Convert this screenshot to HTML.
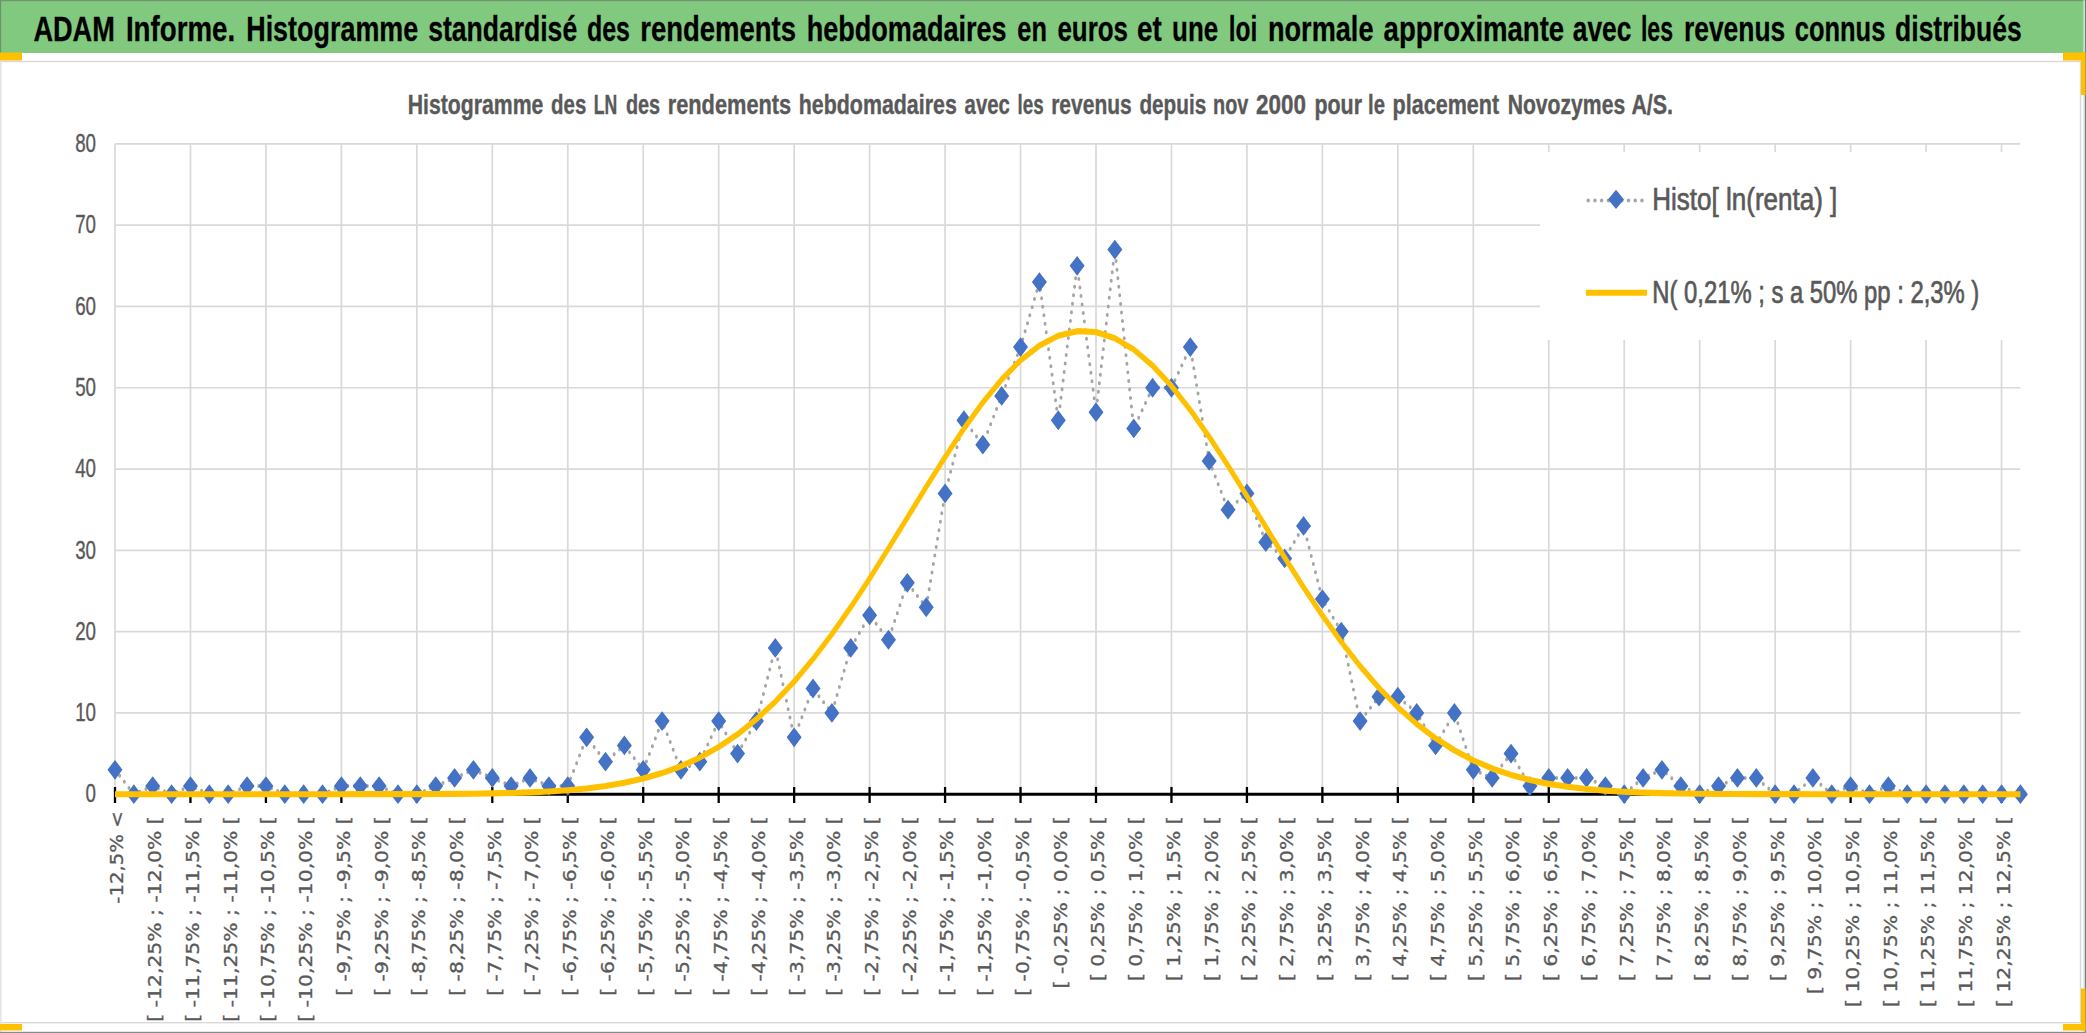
<!DOCTYPE html><html><head><meta charset="utf-8"><title>ADAM Informe</title><style>html,body{margin:0;padding:0;background:#fff;overflow:hidden}svg{display:block}</style></head><body>
<svg width="2086" height="1033" viewBox="0 0 2086 1033">
<rect x="0" y="0" width="2086" height="1033" fill="#ffffff"/>
<rect x="0" y="0" width="2084" height="53" fill="#80C97F"/>
<rect x="0" y="0" width="2086" height="1.2" fill="#739573"/>
<rect x="0" y="0" width="1.1" height="53" fill="#6F8F6F"/>
<rect x="0.7" y="61.5" width="2079.8" height="961.2" fill="none" stroke="#D9D9D9" stroke-width="1.4"/>
<rect x="0" y="53" width="1.3" height="980" fill="#E6E6E6"/>
<rect x="2084.6" y="0" width="1.4" height="1033" fill="#7A7A7A"/>
<rect x="2083.4" y="0" width="1.2" height="1033" fill="#D5E4D5"/>
<rect x="0" y="1031.8" width="2086" height="1.2" fill="#8A8A8A"/>
<rect x="0" y="52.5" width="22" height="8" fill="#FFC000"/>
<rect x="0" y="1024" width="22" height="6.5" fill="#FFC000"/>
<rect x="2063" y="52.5" width="22" height="8" fill="#FFC000"/>
<rect x="2081" y="52.5" width="4.5" height="42.5" fill="#FFC000"/>
<rect x="2063" y="1024" width="22.5" height="6.5" fill="#FFC000"/>
<rect x="2081" y="988.5" width="4.5" height="42" fill="#FFC000"/>
<text transform="translate(33.40 40.80) scale(0.7653 1)" x="-0.00" y="0" font-family="Liberation Sans, sans-serif" font-weight="bold" font-size="35.50" fill="#000" stroke="#000" stroke-width="0.3">ADAM</text>
<text transform="translate(125.90 40.80) scale(0.7804 1)" x="-0.00" y="0" font-family="Liberation Sans, sans-serif" font-weight="bold" font-size="35.50" fill="#000" stroke="#000" stroke-width="0.3">Informe.</text>
<text transform="translate(246.20 40.80) scale(0.7585 1)" x="-0.00" y="0" font-family="Liberation Sans, sans-serif" font-weight="bold" font-size="35.50" fill="#000" stroke="#000" stroke-width="0.3">Histogramme</text>
<text transform="translate(428.20 40.80) scale(0.7478 1)" x="-0.00" y="0" font-family="Liberation Sans, sans-serif" font-weight="bold" font-size="35.50" fill="#000" stroke="#000" stroke-width="0.3">standardisé</text>
<text transform="translate(587.00 40.80) scale(0.7030 1)" x="-0.00" y="0" font-family="Liberation Sans, sans-serif" font-weight="bold" font-size="35.50" fill="#000" stroke="#000" stroke-width="0.3">des</text>
<text transform="translate(640.20 40.80) scale(0.7743 1)" x="-0.00" y="0" font-family="Liberation Sans, sans-serif" font-weight="bold" font-size="35.50" fill="#000" stroke="#000" stroke-width="0.3">rendements</text>
<text transform="translate(806.70 40.80) scale(0.7626 1)" x="-0.00" y="0" font-family="Liberation Sans, sans-serif" font-weight="bold" font-size="35.50" fill="#000" stroke="#000" stroke-width="0.3">hebdomadaires</text>
<text transform="translate(1017.30 40.80) scale(0.7145 1)" x="-0.00" y="0" font-family="Liberation Sans, sans-serif" font-weight="bold" font-size="35.50" fill="#000" stroke="#000" stroke-width="0.3">en</text>
<text transform="translate(1057.40 40.80) scale(0.7303 1)" x="-0.00" y="0" font-family="Liberation Sans, sans-serif" font-weight="bold" font-size="35.50" fill="#000" stroke="#000" stroke-width="0.3">euros</text>
<text transform="translate(1137.10 40.80) scale(0.7826 1)" x="-0.00" y="0" font-family="Liberation Sans, sans-serif" font-weight="bold" font-size="35.50" fill="#000" stroke="#000" stroke-width="0.3">et</text>
<text transform="translate(1172.10 40.80) scale(0.7304 1)" x="-0.00" y="0" font-family="Liberation Sans, sans-serif" font-weight="bold" font-size="35.50" fill="#000" stroke="#000" stroke-width="0.3">une</text>
<text transform="translate(1228.80 40.80) scale(0.6879 1)" x="-0.00" y="0" font-family="Liberation Sans, sans-serif" font-weight="bold" font-size="35.50" fill="#000" stroke="#000" stroke-width="0.3">loi</text>
<text transform="translate(1268.00 40.80) scale(0.7640 1)" x="-0.00" y="0" font-family="Liberation Sans, sans-serif" font-weight="bold" font-size="35.50" fill="#000" stroke="#000" stroke-width="0.3">normale</text>
<text transform="translate(1383.60 40.80) scale(0.7759 1)" x="-0.00" y="0" font-family="Liberation Sans, sans-serif" font-weight="bold" font-size="35.50" fill="#000" stroke="#000" stroke-width="0.3">approximante</text>
<text transform="translate(1572.80 40.80) scale(0.7419 1)" x="-0.00" y="0" font-family="Liberation Sans, sans-serif" font-weight="bold" font-size="35.50" fill="#000" stroke="#000" stroke-width="0.3">avec</text>
<text transform="translate(1640.90 40.80) scale(0.6505 1)" x="-0.00" y="0" font-family="Liberation Sans, sans-serif" font-weight="bold" font-size="35.50" fill="#000" stroke="#000" stroke-width="0.3">les</text>
<text transform="translate(1684.00 40.80) scale(0.7433 1)" x="-0.00" y="0" font-family="Liberation Sans, sans-serif" font-weight="bold" font-size="35.50" fill="#000" stroke="#000" stroke-width="0.3">revenus</text>
<text transform="translate(1794.80 40.80) scale(0.7177 1)" x="-0.00" y="0" font-family="Liberation Sans, sans-serif" font-weight="bold" font-size="35.50" fill="#000" stroke="#000" stroke-width="0.3">connus</text>
<text transform="translate(1895.10 40.80) scale(0.7462 1)" x="-0.00" y="0" font-family="Liberation Sans, sans-serif" font-weight="bold" font-size="35.50" fill="#000" stroke="#000" stroke-width="0.3">distribués</text>
<text transform="translate(407.70 113.90) scale(0.7450 1)" x="-0.00" y="0" font-family="Liberation Sans, sans-serif" font-weight="bold" font-size="28.50" fill="#595959" stroke="#595959" stroke-width="0.4">Histogramme</text>
<text transform="translate(551.10 113.90) scale(0.7168 1)" x="-0.00" y="0" font-family="Liberation Sans, sans-serif" font-weight="bold" font-size="28.50" fill="#595959" stroke="#595959" stroke-width="0.4">des</text>
<text transform="translate(593.70 113.90) scale(0.6186 1)" x="-0.00" y="0" font-family="Liberation Sans, sans-serif" font-weight="bold" font-size="28.50" fill="#595959" stroke="#595959" stroke-width="0.4">LN</text>
<text transform="translate(625.90 113.90) scale(0.6965 1)" x="-0.00" y="0" font-family="Liberation Sans, sans-serif" font-weight="bold" font-size="28.50" fill="#595959" stroke="#595959" stroke-width="0.4">des</text>
<text transform="translate(667.70 113.90) scale(0.7645 1)" x="-0.00" y="0" font-family="Liberation Sans, sans-serif" font-weight="bold" font-size="28.50" fill="#595959" stroke="#595959" stroke-width="0.4">rendements</text>
<text transform="translate(798.80 113.90) scale(0.7501 1)" x="-0.00" y="0" font-family="Liberation Sans, sans-serif" font-weight="bold" font-size="28.50" fill="#595959" stroke="#595959" stroke-width="0.4">hebdomadaires</text>
<text transform="translate(964.60 113.90) scale(0.7128 1)" x="-0.00" y="0" font-family="Liberation Sans, sans-serif" font-weight="bold" font-size="28.50" fill="#595959" stroke="#595959" stroke-width="0.4">avec</text>
<text transform="translate(1017.50 113.90) scale(0.6588 1)" x="-0.00" y="0" font-family="Liberation Sans, sans-serif" font-weight="bold" font-size="28.50" fill="#595959" stroke="#595959" stroke-width="0.4">les</text>
<text transform="translate(1051.20 113.90) scale(0.7374 1)" x="-0.00" y="0" font-family="Liberation Sans, sans-serif" font-weight="bold" font-size="28.50" fill="#595959" stroke="#595959" stroke-width="0.4">revenus</text>
<text transform="translate(1139.40 113.90) scale(0.7272 1)" x="-0.00" y="0" font-family="Liberation Sans, sans-serif" font-weight="bold" font-size="28.50" fill="#595959" stroke="#595959" stroke-width="0.4">depuis</text>
<text transform="translate(1213.10 113.90) scale(0.6966 1)" x="-0.00" y="0" font-family="Liberation Sans, sans-serif" font-weight="bold" font-size="28.50" fill="#595959" stroke="#595959" stroke-width="0.4">nov</text>
<text transform="translate(1256.10 113.90) scale(0.7869 1)" x="-0.00" y="0" font-family="Liberation Sans, sans-serif" font-weight="bold" font-size="28.50" fill="#595959" stroke="#595959" stroke-width="0.4">2000</text>
<text transform="translate(1314.40 113.90) scale(0.7517 1)" x="-0.00" y="0" font-family="Liberation Sans, sans-serif" font-weight="bold" font-size="28.50" fill="#595959" stroke="#595959" stroke-width="0.4">pour</text>
<text transform="translate(1368.10 113.90) scale(0.7110 1)" x="-0.00" y="0" font-family="Liberation Sans, sans-serif" font-weight="bold" font-size="28.50" fill="#595959" stroke="#595959" stroke-width="0.4">le</text>
<text transform="translate(1392.60 113.90) scale(0.7562 1)" x="-0.00" y="0" font-family="Liberation Sans, sans-serif" font-weight="bold" font-size="28.50" fill="#595959" stroke="#595959" stroke-width="0.4">placement</text>
<text transform="translate(1507.70 113.90) scale(0.7418 1)" x="-0.00" y="0" font-family="Liberation Sans, sans-serif" font-weight="bold" font-size="28.50" fill="#595959" stroke="#595959" stroke-width="0.4">Novozymes</text>
<text transform="translate(1631.40 113.90) scale(0.7523 1)" x="-0.00" y="0" font-family="Liberation Sans, sans-serif" font-weight="bold" font-size="28.50" fill="#595959" stroke="#595959" stroke-width="0.4">A/S.</text>
<path d="M115.0,712.91H2020.4M115.0,631.62H2020.4M115.0,550.33H2020.4M115.0,469.04H2020.4M115.0,387.75H2020.4M115.0,306.46H2020.4M115.0,225.17H2020.4M115.0,143.88H2020.4M115.00,143.88V794.20M190.46,143.88V794.20M265.92,143.88V794.20M341.38,143.88V794.20M416.85,143.88V794.20M492.31,143.88V794.20M567.77,143.88V794.20M643.23,143.88V794.20M718.69,143.88V794.20M794.15,143.88V794.20M869.61,143.88V794.20M945.08,143.88V794.20M1020.54,143.88V794.20M1096.00,143.88V794.20M1171.46,143.88V794.20M1246.92,143.88V794.20M1322.38,143.88V794.20M1397.84,143.88V794.20M1473.30,143.88V794.20M1548.77,143.88V794.20M1624.23,143.88V794.20M1699.69,143.88V794.20M1775.15,143.88V794.20M1850.61,143.88V794.20M1926.07,143.88V794.20M2001.53,143.88V794.20" stroke="#D9D9D9" stroke-width="1.7" fill="none"/>
<text x="0" y="0" text-anchor="end" font-family="Liberation Sans, sans-serif" font-size="25" fill="#595959" stroke="#595959" stroke-width="0.35" transform="translate(96 802.40) scale(0.75 1)">0</text>
<text x="0" y="0" text-anchor="end" font-family="Liberation Sans, sans-serif" font-size="25" fill="#595959" stroke="#595959" stroke-width="0.35" transform="translate(96 721.11) scale(0.75 1)">10</text>
<text x="0" y="0" text-anchor="end" font-family="Liberation Sans, sans-serif" font-size="25" fill="#595959" stroke="#595959" stroke-width="0.35" transform="translate(96 639.82) scale(0.75 1)">20</text>
<text x="0" y="0" text-anchor="end" font-family="Liberation Sans, sans-serif" font-size="25" fill="#595959" stroke="#595959" stroke-width="0.35" transform="translate(96 558.53) scale(0.75 1)">30</text>
<text x="0" y="0" text-anchor="end" font-family="Liberation Sans, sans-serif" font-size="25" fill="#595959" stroke="#595959" stroke-width="0.35" transform="translate(96 477.24) scale(0.75 1)">40</text>
<text x="0" y="0" text-anchor="end" font-family="Liberation Sans, sans-serif" font-size="25" fill="#595959" stroke="#595959" stroke-width="0.35" transform="translate(96 395.95) scale(0.75 1)">50</text>
<text x="0" y="0" text-anchor="end" font-family="Liberation Sans, sans-serif" font-size="25" fill="#595959" stroke="#595959" stroke-width="0.35" transform="translate(96 314.66) scale(0.75 1)">60</text>
<text x="0" y="0" text-anchor="end" font-family="Liberation Sans, sans-serif" font-size="25" fill="#595959" stroke="#595959" stroke-width="0.35" transform="translate(96 233.37) scale(0.75 1)">70</text>
<text x="0" y="0" text-anchor="end" font-family="Liberation Sans, sans-serif" font-size="25" fill="#595959" stroke="#595959" stroke-width="0.35" transform="translate(96 152.08) scale(0.75 1)">80</text>
<path d="M115.0,794.20H2020.4" stroke="#000" stroke-width="2.9"/>
<path d="M115.00,787V803M190.46,787V803M265.92,787V803M341.38,787V803M416.85,787V803M492.31,787V803M567.77,787V803M643.23,787V803M718.69,787V803M794.15,787V803M869.61,787V803M945.08,787V803M1020.54,787V803M1096.00,787V803M1171.46,787V803M1246.92,787V803M1322.38,787V803M1397.84,787V803M1473.30,787V803M1548.77,787V803M1624.23,787V803M1699.69,787V803M1775.15,787V803M1850.61,787V803M1926.07,787V803M2001.53,787V803" stroke="#000" stroke-width="2.3"/>
<text transform="translate(115.00 811.2) rotate(-90) scale(1.132 1)" x="0" y="8.4" text-anchor="end" font-family="DejaVu Sans, sans-serif" font-size="17.4" fill="#595959" stroke="#595959" stroke-width="0.3">-12,5% &lt;</text>
<text transform="translate(152.73 816.2) rotate(-90) scale(1.170 1)" x="0" y="8.4" text-anchor="end" font-family="DejaVu Sans, sans-serif" font-size="17.4" fill="#595959" stroke="#595959" stroke-width="0.3">[ -12,25% ; -12,0% [</text>
<text transform="translate(190.46 816.2) rotate(-90) scale(1.170 1)" x="0" y="8.4" text-anchor="end" font-family="DejaVu Sans, sans-serif" font-size="17.4" fill="#595959" stroke="#595959" stroke-width="0.3">[ -11,75% ; -11,5% [</text>
<text transform="translate(228.19 816.2) rotate(-90) scale(1.170 1)" x="0" y="8.4" text-anchor="end" font-family="DejaVu Sans, sans-serif" font-size="17.4" fill="#595959" stroke="#595959" stroke-width="0.3">[ -11,25% ; -11,0% [</text>
<text transform="translate(265.92 816.2) rotate(-90) scale(1.170 1)" x="0" y="8.4" text-anchor="end" font-family="DejaVu Sans, sans-serif" font-size="17.4" fill="#595959" stroke="#595959" stroke-width="0.3">[ -10,75% ; -10,5% [</text>
<text transform="translate(303.65 816.2) rotate(-90) scale(1.170 1)" x="0" y="8.4" text-anchor="end" font-family="DejaVu Sans, sans-serif" font-size="17.4" fill="#595959" stroke="#595959" stroke-width="0.3">[ -10,25% ; -10,0% [</text>
<text transform="translate(341.38 816.2) rotate(-90) scale(1.170 1)" x="0" y="8.4" text-anchor="end" font-family="DejaVu Sans, sans-serif" font-size="17.4" fill="#595959" stroke="#595959" stroke-width="0.3">[ -9,75% ; -9,5% [</text>
<text transform="translate(379.11 816.2) rotate(-90) scale(1.170 1)" x="0" y="8.4" text-anchor="end" font-family="DejaVu Sans, sans-serif" font-size="17.4" fill="#595959" stroke="#595959" stroke-width="0.3">[ -9,25% ; -9,0% [</text>
<text transform="translate(416.85 816.2) rotate(-90) scale(1.170 1)" x="0" y="8.4" text-anchor="end" font-family="DejaVu Sans, sans-serif" font-size="17.4" fill="#595959" stroke="#595959" stroke-width="0.3">[ -8,75% ; -8,5% [</text>
<text transform="translate(454.58 816.2) rotate(-90) scale(1.170 1)" x="0" y="8.4" text-anchor="end" font-family="DejaVu Sans, sans-serif" font-size="17.4" fill="#595959" stroke="#595959" stroke-width="0.3">[ -8,25% ; -8,0% [</text>
<text transform="translate(492.31 816.2) rotate(-90) scale(1.170 1)" x="0" y="8.4" text-anchor="end" font-family="DejaVu Sans, sans-serif" font-size="17.4" fill="#595959" stroke="#595959" stroke-width="0.3">[ -7,75% ; -7,5% [</text>
<text transform="translate(530.04 816.2) rotate(-90) scale(1.170 1)" x="0" y="8.4" text-anchor="end" font-family="DejaVu Sans, sans-serif" font-size="17.4" fill="#595959" stroke="#595959" stroke-width="0.3">[ -7,25% ; -7,0% [</text>
<text transform="translate(567.77 816.2) rotate(-90) scale(1.170 1)" x="0" y="8.4" text-anchor="end" font-family="DejaVu Sans, sans-serif" font-size="17.4" fill="#595959" stroke="#595959" stroke-width="0.3">[ -6,75% ; -6,5% [</text>
<text transform="translate(605.50 816.2) rotate(-90) scale(1.170 1)" x="0" y="8.4" text-anchor="end" font-family="DejaVu Sans, sans-serif" font-size="17.4" fill="#595959" stroke="#595959" stroke-width="0.3">[ -6,25% ; -6,0% [</text>
<text transform="translate(643.23 816.2) rotate(-90) scale(1.170 1)" x="0" y="8.4" text-anchor="end" font-family="DejaVu Sans, sans-serif" font-size="17.4" fill="#595959" stroke="#595959" stroke-width="0.3">[ -5,75% ; -5,5% [</text>
<text transform="translate(680.96 816.2) rotate(-90) scale(1.170 1)" x="0" y="8.4" text-anchor="end" font-family="DejaVu Sans, sans-serif" font-size="17.4" fill="#595959" stroke="#595959" stroke-width="0.3">[ -5,25% ; -5,0% [</text>
<text transform="translate(718.69 816.2) rotate(-90) scale(1.170 1)" x="0" y="8.4" text-anchor="end" font-family="DejaVu Sans, sans-serif" font-size="17.4" fill="#595959" stroke="#595959" stroke-width="0.3">[ -4,75% ; -4,5% [</text>
<text transform="translate(756.42 816.2) rotate(-90) scale(1.170 1)" x="0" y="8.4" text-anchor="end" font-family="DejaVu Sans, sans-serif" font-size="17.4" fill="#595959" stroke="#595959" stroke-width="0.3">[ -4,25% ; -4,0% [</text>
<text transform="translate(794.15 816.2) rotate(-90) scale(1.170 1)" x="0" y="8.4" text-anchor="end" font-family="DejaVu Sans, sans-serif" font-size="17.4" fill="#595959" stroke="#595959" stroke-width="0.3">[ -3,75% ; -3,5% [</text>
<text transform="translate(831.88 816.2) rotate(-90) scale(1.170 1)" x="0" y="8.4" text-anchor="end" font-family="DejaVu Sans, sans-serif" font-size="17.4" fill="#595959" stroke="#595959" stroke-width="0.3">[ -3,25% ; -3,0% [</text>
<text transform="translate(869.61 816.2) rotate(-90) scale(1.170 1)" x="0" y="8.4" text-anchor="end" font-family="DejaVu Sans, sans-serif" font-size="17.4" fill="#595959" stroke="#595959" stroke-width="0.3">[ -2,75% ; -2,5% [</text>
<text transform="translate(907.34 816.2) rotate(-90) scale(1.170 1)" x="0" y="8.4" text-anchor="end" font-family="DejaVu Sans, sans-serif" font-size="17.4" fill="#595959" stroke="#595959" stroke-width="0.3">[ -2,25% ; -2,0% [</text>
<text transform="translate(945.08 816.2) rotate(-90) scale(1.170 1)" x="0" y="8.4" text-anchor="end" font-family="DejaVu Sans, sans-serif" font-size="17.4" fill="#595959" stroke="#595959" stroke-width="0.3">[ -1,75% ; -1,5% [</text>
<text transform="translate(982.81 816.2) rotate(-90) scale(1.170 1)" x="0" y="8.4" text-anchor="end" font-family="DejaVu Sans, sans-serif" font-size="17.4" fill="#595959" stroke="#595959" stroke-width="0.3">[ -1,25% ; -1,0% [</text>
<text transform="translate(1020.54 816.2) rotate(-90) scale(1.170 1)" x="0" y="8.4" text-anchor="end" font-family="DejaVu Sans, sans-serif" font-size="17.4" fill="#595959" stroke="#595959" stroke-width="0.3">[ -0,75% ; -0,5% [</text>
<text transform="translate(1058.27 816.2) rotate(-90) scale(1.170 1)" x="0" y="8.4" text-anchor="end" font-family="DejaVu Sans, sans-serif" font-size="17.4" fill="#595959" stroke="#595959" stroke-width="0.3">[ -0,25% ; 0,0% [</text>
<text transform="translate(1096.00 816.2) rotate(-90) scale(1.170 1)" x="0" y="8.4" text-anchor="end" font-family="DejaVu Sans, sans-serif" font-size="17.4" fill="#595959" stroke="#595959" stroke-width="0.3">[ 0,25% ; 0,5% [</text>
<text transform="translate(1133.73 816.2) rotate(-90) scale(1.170 1)" x="0" y="8.4" text-anchor="end" font-family="DejaVu Sans, sans-serif" font-size="17.4" fill="#595959" stroke="#595959" stroke-width="0.3">[ 0,75% ; 1,0% [</text>
<text transform="translate(1171.46 816.2) rotate(-90) scale(1.170 1)" x="0" y="8.4" text-anchor="end" font-family="DejaVu Sans, sans-serif" font-size="17.4" fill="#595959" stroke="#595959" stroke-width="0.3">[ 1,25% ; 1,5% [</text>
<text transform="translate(1209.19 816.2) rotate(-90) scale(1.170 1)" x="0" y="8.4" text-anchor="end" font-family="DejaVu Sans, sans-serif" font-size="17.4" fill="#595959" stroke="#595959" stroke-width="0.3">[ 1,75% ; 2,0% [</text>
<text transform="translate(1246.92 816.2) rotate(-90) scale(1.170 1)" x="0" y="8.4" text-anchor="end" font-family="DejaVu Sans, sans-serif" font-size="17.4" fill="#595959" stroke="#595959" stroke-width="0.3">[ 2,25% ; 2,5% [</text>
<text transform="translate(1284.65 816.2) rotate(-90) scale(1.170 1)" x="0" y="8.4" text-anchor="end" font-family="DejaVu Sans, sans-serif" font-size="17.4" fill="#595959" stroke="#595959" stroke-width="0.3">[ 2,75% ; 3,0% [</text>
<text transform="translate(1322.38 816.2) rotate(-90) scale(1.170 1)" x="0" y="8.4" text-anchor="end" font-family="DejaVu Sans, sans-serif" font-size="17.4" fill="#595959" stroke="#595959" stroke-width="0.3">[ 3,25% ; 3,5% [</text>
<text transform="translate(1360.11 816.2) rotate(-90) scale(1.170 1)" x="0" y="8.4" text-anchor="end" font-family="DejaVu Sans, sans-serif" font-size="17.4" fill="#595959" stroke="#595959" stroke-width="0.3">[ 3,75% ; 4,0% [</text>
<text transform="translate(1397.84 816.2) rotate(-90) scale(1.170 1)" x="0" y="8.4" text-anchor="end" font-family="DejaVu Sans, sans-serif" font-size="17.4" fill="#595959" stroke="#595959" stroke-width="0.3">[ 4,25% ; 4,5% [</text>
<text transform="translate(1435.57 816.2) rotate(-90) scale(1.170 1)" x="0" y="8.4" text-anchor="end" font-family="DejaVu Sans, sans-serif" font-size="17.4" fill="#595959" stroke="#595959" stroke-width="0.3">[ 4,75% ; 5,0% [</text>
<text transform="translate(1473.30 816.2) rotate(-90) scale(1.170 1)" x="0" y="8.4" text-anchor="end" font-family="DejaVu Sans, sans-serif" font-size="17.4" fill="#595959" stroke="#595959" stroke-width="0.3">[ 5,25% ; 5,5% [</text>
<text transform="translate(1511.04 816.2) rotate(-90) scale(1.170 1)" x="0" y="8.4" text-anchor="end" font-family="DejaVu Sans, sans-serif" font-size="17.4" fill="#595959" stroke="#595959" stroke-width="0.3">[ 5,75% ; 6,0% [</text>
<text transform="translate(1548.77 816.2) rotate(-90) scale(1.170 1)" x="0" y="8.4" text-anchor="end" font-family="DejaVu Sans, sans-serif" font-size="17.4" fill="#595959" stroke="#595959" stroke-width="0.3">[ 6,25% ; 6,5% [</text>
<text transform="translate(1586.50 816.2) rotate(-90) scale(1.170 1)" x="0" y="8.4" text-anchor="end" font-family="DejaVu Sans, sans-serif" font-size="17.4" fill="#595959" stroke="#595959" stroke-width="0.3">[ 6,75% ; 7,0% [</text>
<text transform="translate(1624.23 816.2) rotate(-90) scale(1.170 1)" x="0" y="8.4" text-anchor="end" font-family="DejaVu Sans, sans-serif" font-size="17.4" fill="#595959" stroke="#595959" stroke-width="0.3">[ 7,25% ; 7,5% [</text>
<text transform="translate(1661.96 816.2) rotate(-90) scale(1.170 1)" x="0" y="8.4" text-anchor="end" font-family="DejaVu Sans, sans-serif" font-size="17.4" fill="#595959" stroke="#595959" stroke-width="0.3">[ 7,75% ; 8,0% [</text>
<text transform="translate(1699.69 816.2) rotate(-90) scale(1.170 1)" x="0" y="8.4" text-anchor="end" font-family="DejaVu Sans, sans-serif" font-size="17.4" fill="#595959" stroke="#595959" stroke-width="0.3">[ 8,25% ; 8,5% [</text>
<text transform="translate(1737.42 816.2) rotate(-90) scale(1.170 1)" x="0" y="8.4" text-anchor="end" font-family="DejaVu Sans, sans-serif" font-size="17.4" fill="#595959" stroke="#595959" stroke-width="0.3">[ 8,75% ; 9,0% [</text>
<text transform="translate(1775.15 816.2) rotate(-90) scale(1.170 1)" x="0" y="8.4" text-anchor="end" font-family="DejaVu Sans, sans-serif" font-size="17.4" fill="#595959" stroke="#595959" stroke-width="0.3">[ 9,25% ; 9,5% [</text>
<text transform="translate(1812.88 816.2) rotate(-90) scale(1.170 1)" x="0" y="8.4" text-anchor="end" font-family="DejaVu Sans, sans-serif" font-size="17.4" fill="#595959" stroke="#595959" stroke-width="0.3">[ 9,75% ; 10,0% [</text>
<text transform="translate(1850.61 816.2) rotate(-90) scale(1.170 1)" x="0" y="8.4" text-anchor="end" font-family="DejaVu Sans, sans-serif" font-size="17.4" fill="#595959" stroke="#595959" stroke-width="0.3">[ 10,25% ; 10,5% [</text>
<text transform="translate(1888.34 816.2) rotate(-90) scale(1.170 1)" x="0" y="8.4" text-anchor="end" font-family="DejaVu Sans, sans-serif" font-size="17.4" fill="#595959" stroke="#595959" stroke-width="0.3">[ 10,75% ; 11,0% [</text>
<text transform="translate(1926.07 816.2) rotate(-90) scale(1.170 1)" x="0" y="8.4" text-anchor="end" font-family="DejaVu Sans, sans-serif" font-size="17.4" fill="#595959" stroke="#595959" stroke-width="0.3">[ 11,25% ; 11,5% [</text>
<text transform="translate(1963.80 816.2) rotate(-90) scale(1.170 1)" x="0" y="8.4" text-anchor="end" font-family="DejaVu Sans, sans-serif" font-size="17.4" fill="#595959" stroke="#595959" stroke-width="0.3">[ 11,75% ; 12,0% [</text>
<text transform="translate(2001.53 816.2) rotate(-90) scale(1.170 1)" x="0" y="8.4" text-anchor="end" font-family="DejaVu Sans, sans-serif" font-size="17.4" fill="#595959" stroke="#595959" stroke-width="0.3">[ 12,25% ; 12,5% [</text>
<rect x="1540" y="152" width="482" height="188" fill="#fff"/>
<g transform="matrix(1,0,0,1.330,0,0)"><polyline points="115.00,578.807 133.87,597.143 152.73,591.031 171.60,597.143 190.46,591.031 209.33,597.143 228.19,597.143 247.06,591.031 265.92,591.031 284.79,597.143 303.65,597.143 322.52,597.143 341.38,591.031 360.25,591.031 379.11,591.031 397.98,597.143 416.85,597.143 435.71,591.031 454.58,584.919 473.44,578.807 492.31,584.919 511.17,591.031 530.04,584.919 548.90,591.031 567.77,591.031 586.63,554.359 605.50,572.695 624.36,560.471 643.23,578.807 662.10,542.135 680.96,578.807 699.83,572.695 718.69,542.135 737.56,566.583 756.42,542.135 775.29,487.126 794.15,554.359 813.02,517.686 831.88,536.023 850.75,487.126 869.61,462.678 888.48,481.014 907.34,438.230 926.21,456.566 945.08,370.998 963.94,315.989 982.81,334.326 1001.67,297.653 1020.54,260.981 1039.40,212.085 1058.27,315.989 1077.13,199.861 1096.00,309.877 1114.86,187.637 1133.73,322.102 1152.59,291.541 1171.46,291.541 1190.32,260.981 1209.19,346.550 1228.06,383.222 1246.92,370.998 1265.79,407.670 1284.65,419.894 1303.52,395.446 1322.38,450.454 1341.25,474.902 1360.11,542.135 1378.98,523.798 1397.84,523.798 1416.71,536.023 1435.57,560.471 1454.44,536.023 1473.30,578.807 1492.17,584.919 1511.04,566.583 1529.90,591.031 1548.77,584.919 1567.63,584.919 1586.50,584.919 1605.36,591.031 1624.23,597.143 1643.09,584.919 1661.96,578.807 1680.82,591.031 1699.69,597.143 1718.55,591.031 1737.42,584.919 1756.29,584.919 1775.15,597.143 1794.02,597.143 1812.88,584.919 1831.75,597.143 1850.61,591.031 1869.48,597.143 1888.34,591.031 1907.21,597.143 1926.07,597.143 1944.94,597.143 1963.80,597.143 1982.67,597.143 2001.53,597.143 2020.40,597.143" fill="none" stroke="#A5A5A5" stroke-width="3.0" stroke-linecap="round" stroke-linejoin="round" stroke-dasharray="0 6.5"/></g>
<path d="M115.00,759.91l7.5,9.9l-7.5,9.9l-7.5,-9.9zM133.87,784.30l7.5,9.9l-7.5,9.9l-7.5,-9.9zM152.73,776.17l7.5,9.9l-7.5,9.9l-7.5,-9.9zM171.60,784.30l7.5,9.9l-7.5,9.9l-7.5,-9.9zM190.46,776.17l7.5,9.9l-7.5,9.9l-7.5,-9.9zM209.33,784.30l7.5,9.9l-7.5,9.9l-7.5,-9.9zM228.19,784.30l7.5,9.9l-7.5,9.9l-7.5,-9.9zM247.06,776.17l7.5,9.9l-7.5,9.9l-7.5,-9.9zM265.92,776.17l7.5,9.9l-7.5,9.9l-7.5,-9.9zM284.79,784.30l7.5,9.9l-7.5,9.9l-7.5,-9.9zM303.65,784.30l7.5,9.9l-7.5,9.9l-7.5,-9.9zM322.52,784.30l7.5,9.9l-7.5,9.9l-7.5,-9.9zM341.38,776.17l7.5,9.9l-7.5,9.9l-7.5,-9.9zM360.25,776.17l7.5,9.9l-7.5,9.9l-7.5,-9.9zM379.11,776.17l7.5,9.9l-7.5,9.9l-7.5,-9.9zM397.98,784.30l7.5,9.9l-7.5,9.9l-7.5,-9.9zM416.85,784.30l7.5,9.9l-7.5,9.9l-7.5,-9.9zM435.71,776.17l7.5,9.9l-7.5,9.9l-7.5,-9.9zM454.58,768.04l7.5,9.9l-7.5,9.9l-7.5,-9.9zM473.44,759.91l7.5,9.9l-7.5,9.9l-7.5,-9.9zM492.31,768.04l7.5,9.9l-7.5,9.9l-7.5,-9.9zM511.17,776.17l7.5,9.9l-7.5,9.9l-7.5,-9.9zM530.04,768.04l7.5,9.9l-7.5,9.9l-7.5,-9.9zM548.90,776.17l7.5,9.9l-7.5,9.9l-7.5,-9.9zM567.77,776.17l7.5,9.9l-7.5,9.9l-7.5,-9.9zM586.63,727.40l7.5,9.9l-7.5,9.9l-7.5,-9.9zM605.50,751.78l7.5,9.9l-7.5,9.9l-7.5,-9.9zM624.36,735.53l7.5,9.9l-7.5,9.9l-7.5,-9.9zM643.23,759.91l7.5,9.9l-7.5,9.9l-7.5,-9.9zM662.10,711.14l7.5,9.9l-7.5,9.9l-7.5,-9.9zM680.96,759.91l7.5,9.9l-7.5,9.9l-7.5,-9.9zM699.83,751.78l7.5,9.9l-7.5,9.9l-7.5,-9.9zM718.69,711.14l7.5,9.9l-7.5,9.9l-7.5,-9.9zM737.56,743.66l7.5,9.9l-7.5,9.9l-7.5,-9.9zM756.42,711.14l7.5,9.9l-7.5,9.9l-7.5,-9.9zM775.29,637.98l7.5,9.9l-7.5,9.9l-7.5,-9.9zM794.15,727.40l7.5,9.9l-7.5,9.9l-7.5,-9.9zM813.02,678.62l7.5,9.9l-7.5,9.9l-7.5,-9.9zM831.88,703.01l7.5,9.9l-7.5,9.9l-7.5,-9.9zM850.75,637.98l7.5,9.9l-7.5,9.9l-7.5,-9.9zM869.61,605.46l7.5,9.9l-7.5,9.9l-7.5,-9.9zM888.48,629.85l7.5,9.9l-7.5,9.9l-7.5,-9.9zM907.34,572.95l7.5,9.9l-7.5,9.9l-7.5,-9.9zM926.21,597.33l7.5,9.9l-7.5,9.9l-7.5,-9.9zM945.08,483.53l7.5,9.9l-7.5,9.9l-7.5,-9.9zM963.94,410.37l7.5,9.9l-7.5,9.9l-7.5,-9.9zM982.81,434.75l7.5,9.9l-7.5,9.9l-7.5,-9.9zM1001.67,385.98l7.5,9.9l-7.5,9.9l-7.5,-9.9zM1020.54,337.21l7.5,9.9l-7.5,9.9l-7.5,-9.9zM1039.40,272.17l7.5,9.9l-7.5,9.9l-7.5,-9.9zM1058.27,410.37l7.5,9.9l-7.5,9.9l-7.5,-9.9zM1077.13,255.92l7.5,9.9l-7.5,9.9l-7.5,-9.9zM1096.00,402.24l7.5,9.9l-7.5,9.9l-7.5,-9.9zM1114.86,239.66l7.5,9.9l-7.5,9.9l-7.5,-9.9zM1133.73,418.50l7.5,9.9l-7.5,9.9l-7.5,-9.9zM1152.59,377.85l7.5,9.9l-7.5,9.9l-7.5,-9.9zM1171.46,377.85l7.5,9.9l-7.5,9.9l-7.5,-9.9zM1190.32,337.21l7.5,9.9l-7.5,9.9l-7.5,-9.9zM1209.19,451.01l7.5,9.9l-7.5,9.9l-7.5,-9.9zM1228.06,499.79l7.5,9.9l-7.5,9.9l-7.5,-9.9zM1246.92,483.53l7.5,9.9l-7.5,9.9l-7.5,-9.9zM1265.79,532.30l7.5,9.9l-7.5,9.9l-7.5,-9.9zM1284.65,548.56l7.5,9.9l-7.5,9.9l-7.5,-9.9zM1303.52,516.04l7.5,9.9l-7.5,9.9l-7.5,-9.9zM1322.38,589.20l7.5,9.9l-7.5,9.9l-7.5,-9.9zM1341.25,621.72l7.5,9.9l-7.5,9.9l-7.5,-9.9zM1360.11,711.14l7.5,9.9l-7.5,9.9l-7.5,-9.9zM1378.98,686.75l7.5,9.9l-7.5,9.9l-7.5,-9.9zM1397.84,686.75l7.5,9.9l-7.5,9.9l-7.5,-9.9zM1416.71,703.01l7.5,9.9l-7.5,9.9l-7.5,-9.9zM1435.57,735.53l7.5,9.9l-7.5,9.9l-7.5,-9.9zM1454.44,703.01l7.5,9.9l-7.5,9.9l-7.5,-9.9zM1473.30,759.91l7.5,9.9l-7.5,9.9l-7.5,-9.9zM1492.17,768.04l7.5,9.9l-7.5,9.9l-7.5,-9.9zM1511.04,743.66l7.5,9.9l-7.5,9.9l-7.5,-9.9zM1529.90,776.17l7.5,9.9l-7.5,9.9l-7.5,-9.9zM1548.77,768.04l7.5,9.9l-7.5,9.9l-7.5,-9.9zM1567.63,768.04l7.5,9.9l-7.5,9.9l-7.5,-9.9zM1586.50,768.04l7.5,9.9l-7.5,9.9l-7.5,-9.9zM1605.36,776.17l7.5,9.9l-7.5,9.9l-7.5,-9.9zM1624.23,784.30l7.5,9.9l-7.5,9.9l-7.5,-9.9zM1643.09,768.04l7.5,9.9l-7.5,9.9l-7.5,-9.9zM1661.96,759.91l7.5,9.9l-7.5,9.9l-7.5,-9.9zM1680.82,776.17l7.5,9.9l-7.5,9.9l-7.5,-9.9zM1699.69,784.30l7.5,9.9l-7.5,9.9l-7.5,-9.9zM1718.55,776.17l7.5,9.9l-7.5,9.9l-7.5,-9.9zM1737.42,768.04l7.5,9.9l-7.5,9.9l-7.5,-9.9zM1756.29,768.04l7.5,9.9l-7.5,9.9l-7.5,-9.9zM1775.15,784.30l7.5,9.9l-7.5,9.9l-7.5,-9.9zM1794.02,784.30l7.5,9.9l-7.5,9.9l-7.5,-9.9zM1812.88,768.04l7.5,9.9l-7.5,9.9l-7.5,-9.9zM1831.75,784.30l7.5,9.9l-7.5,9.9l-7.5,-9.9zM1850.61,776.17l7.5,9.9l-7.5,9.9l-7.5,-9.9zM1869.48,784.30l7.5,9.9l-7.5,9.9l-7.5,-9.9zM1888.34,776.17l7.5,9.9l-7.5,9.9l-7.5,-9.9zM1907.21,784.30l7.5,9.9l-7.5,9.9l-7.5,-9.9zM1926.07,784.30l7.5,9.9l-7.5,9.9l-7.5,-9.9zM1944.94,784.30l7.5,9.9l-7.5,9.9l-7.5,-9.9zM1963.80,784.30l7.5,9.9l-7.5,9.9l-7.5,-9.9zM1982.67,784.30l7.5,9.9l-7.5,9.9l-7.5,-9.9zM2001.53,784.30l7.5,9.9l-7.5,9.9l-7.5,-9.9zM2020.40,784.30l7.5,9.9l-7.5,9.9l-7.5,-9.9z" fill="#4472C4"/>
<g transform="matrix(1,0,0,1.330,0,0)"><polyline points="115.00,597.143 133.87,597.143 152.73,597.143 171.60,597.143 190.46,597.143 209.33,597.143 228.19,597.143 247.06,597.143 265.92,597.142 284.79,597.142 303.65,597.141 322.52,597.139 341.38,597.135 360.25,597.128 379.11,597.116 397.98,597.096 416.85,597.062 435.71,597.007 454.58,596.918 473.44,596.779 492.31,596.566 511.17,596.246 530.04,595.776 548.90,595.098 567.77,594.139 586.63,592.808 605.50,590.996 624.36,588.572 643.23,585.389 662.10,581.282 680.96,576.076 699.83,569.588 718.69,561.642 737.56,552.075 756.42,540.750 775.29,527.571 794.15,512.496 813.02,495.547 831.88,476.824 850.75,456.513 869.61,434.886 888.48,412.304 907.34,389.209 926.21,366.111 945.08,343.576 963.94,322.199 982.81,302.581 1001.67,285.303 1020.54,270.900 1039.40,259.828 1058.27,252.449 1077.13,249.006 1096.00,249.616 1114.86,254.258 1133.73,262.776 1152.59,274.890 1171.46,290.208 1190.32,308.246 1209.19,328.454 1228.06,350.243 1246.92,373.008 1265.79,396.162 1284.65,419.154 1303.52,441.493 1322.38,462.759 1341.25,482.618 1360.11,500.824 1378.98,517.218 1397.84,531.723 1416.71,544.339 1435.57,555.124 1454.44,564.189 1473.30,571.679 1492.17,577.764 1511.04,582.622 1529.90,586.433 1548.77,589.372 1567.63,591.597 1586.50,593.253 1605.36,594.461 1624.23,595.327 1643.09,595.936 1661.96,596.356 1680.82,596.639 1699.69,596.827 1718.55,596.949 1737.42,597.026 1756.29,597.074 1775.15,597.103 1794.02,597.121 1812.88,597.131 1831.75,597.136 1850.61,597.139 1869.48,597.141 1888.34,597.142 1907.21,597.142 1926.07,597.143 1944.94,597.143 1963.80,597.143 1982.67,597.143 2001.53,597.143 2020.40,597.143" fill="none" stroke="#FFC000" stroke-width="4.6" stroke-linejoin="round"/></g>
<g fill="#A5A5A5"><ellipse cx="1588.20" cy="200.5" rx="1.7" ry="1.9"/><ellipse cx="1594.92" cy="200.5" rx="1.7" ry="1.9"/><ellipse cx="1601.64" cy="200.5" rx="1.7" ry="1.9"/><ellipse cx="1608.36" cy="200.5" rx="1.7" ry="1.9"/><ellipse cx="1615.08" cy="200.5" rx="1.7" ry="1.9"/><ellipse cx="1621.80" cy="200.5" rx="1.7" ry="1.9"/><ellipse cx="1628.52" cy="200.5" rx="1.7" ry="1.9"/><ellipse cx="1635.24" cy="200.5" rx="1.7" ry="1.9"/><ellipse cx="1641.96" cy="200.5" rx="1.7" ry="1.9"/></g>
<path d="M1616,189.8l8,9.6l-8,9.6l-8,-9.6z" fill="#4472C4"/>
<text x="1652.3" y="210.2" font-family="Liberation Sans, sans-serif" font-size="31" fill="#595959" stroke="#595959" stroke-width="0.7" textLength="185" lengthAdjust="spacingAndGlyphs">Histo[ ln(renta) ]</text>
<path d="M1586,292.8H1647" stroke="#FFC000" stroke-width="6"/>
<text x="1652.3" y="302.6" font-family="Liberation Sans, sans-serif" font-size="31" fill="#595959" stroke="#595959" stroke-width="0.7" textLength="327" lengthAdjust="spacingAndGlyphs">N( 0,21% ; s a 50% pp : 2,3% )</text>
</svg></body></html>
